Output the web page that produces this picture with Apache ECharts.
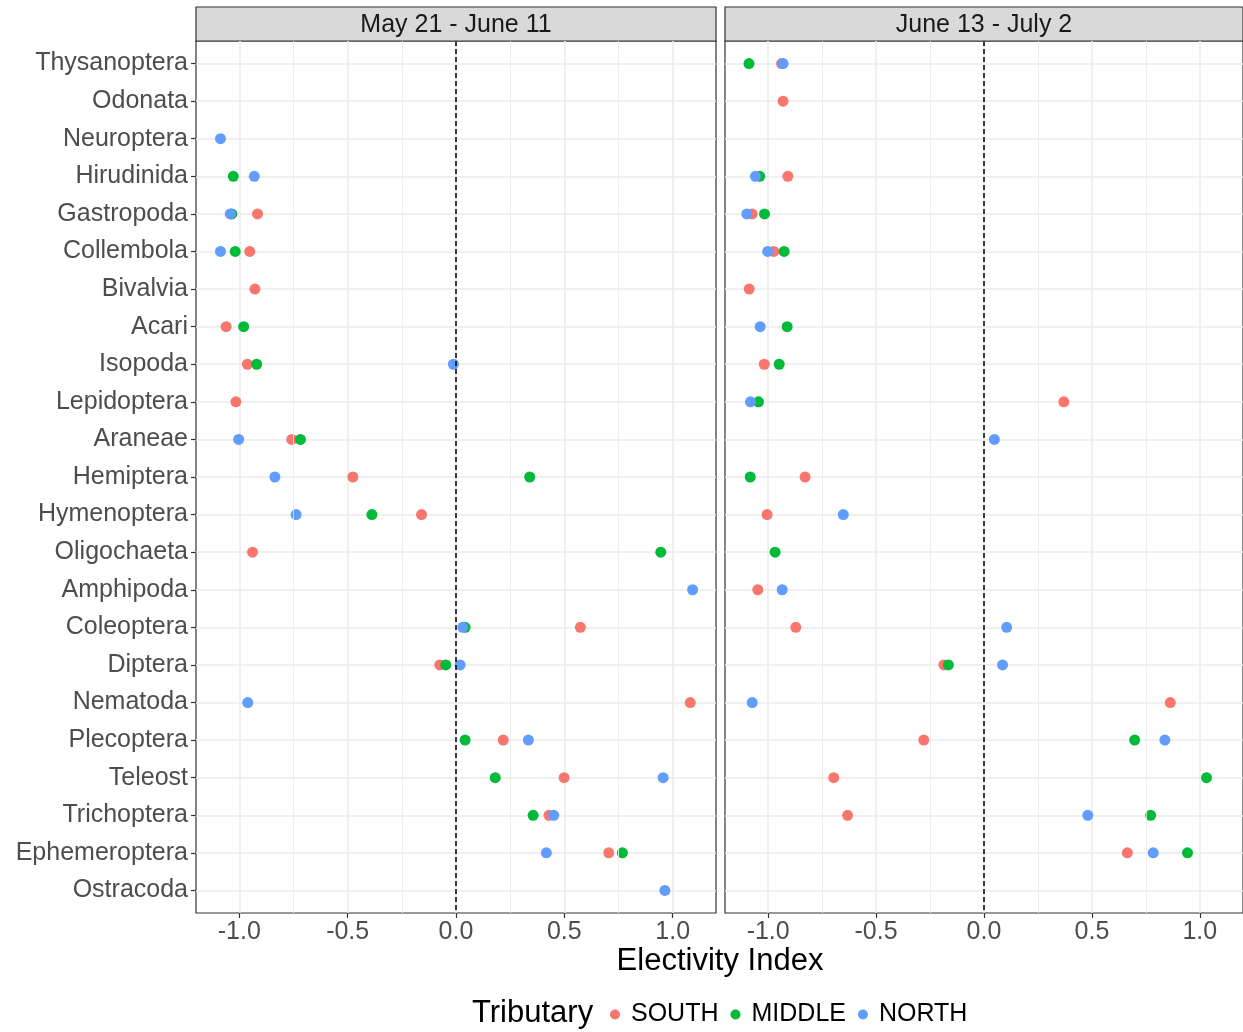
<!DOCTYPE html>
<html>
<head>
<meta charset="utf-8">
<script src="https://cdn.jsdelivr.net/npm/echarts@6/dist/echarts.min.js"></script>
<style>
html, body { margin: 0; padding: 0; background: #fff; }
#main { width: 1243px; height: 1032px; }
</style>
</head>
<body>
<div id="main"></div>
<script>
// categories, top to bottom
var taxa = ['Thysanoptera', 'Odonata', 'Neuroptera', 'Hirudinida', 'Gastropoda', 'Collembola',
	'Bivalvia', 'Acari', 'Isopoda', 'Lepidoptera', 'Araneae', 'Hemiptera', 'Hymenoptera',
	'Oligochaeta', 'Amphipoda', 'Coleoptera', 'Diptera', 'Nematoda', 'Plecoptera', 'Teleost',
	'Trichoptera', 'Ephemeroptera', 'Ostracoda'];
var periods = ['May 21 - June 11', 'June 13 - July 2'];
var tributaries = ['SOUTH', 'MIDDLE', 'NORTH'];
var xTicks = [-1, -0.5, 0, 0.5, 1];
var xMinor = [-0.75, -0.25, 0.25, 0.75];

// May 21 - June 11
var south1  = [null, null, null, null, -0.916, -0.952, -0.928, -1.061, -0.963, -1.016, -0.758, -0.476, -0.159, -0.939, null, 0.574, -0.075, 1.081, 0.218, 0.499, 0.429, 0.705, null];
var middle1 = [null, null, null, -1.028, -1.035, -1.019, null, -0.980, -0.920, null, -0.718, 0.340, -0.388, 0.945, null, 0.042, -0.047, null, 0.042, 0.181, 0.356, 0.768, null];
var north1  = [null, null, -1.087, -0.931, -1.042, -1.087, null, null, -0.012, null, -1.003, -0.836, -0.738, null, 1.092, 0.031, 0.019, -0.961, 0.334, 0.956, 0.451, 0.417, 0.964];

// June 13 - July 2
var south2  = [-0.938, -0.931, null, -0.909, -1.074, -0.974, -1.088, null, -1.018, 0.370, null, -0.829, -1.005, null, -1.048, -0.872, -0.186, 0.863, -0.279, -0.696, -0.632, 0.664, null];
var middle2 = [-1.089, null, null, -1.039, -1.017, -0.926, null, -0.912, -0.949, -1.045, null, -1.083, null, -0.968, null, null, -0.165, null, 0.698, 1.031, 0.772, 0.943, null];
var north2  = [-0.931, null, null, -1.059, -1.099, -1.002, null, -1.037, null, -1.082, 0.048, null, -0.652, null, -0.935, 0.105, 0.086, -1.074, 0.838, null, 0.481, 0.784, null];

var colors = ['#F8766D', '#00BA38', '#619CFF'];
var font = '"Liberation Sans", Arial, sans-serif';
var panelData = [[south1, middle1, north1], [south2, middle2, north2]];

var yIdx = taxa.map(function(t, i) { return i; });

function pts(arr) {
	var out = [];
	arr.forEach(function(v, i) {
		if (v !== null) out.push([v, i]);
	});
	return out;
}

var grids = [
	{ left: 196, top: 41, width: 520, height: 872 },
	{ left: 725, top: 41, width: 518, height: 872 }
];
var xAxes = [], yAxes = [], series = [], graphics = [];

grids.forEach(function(g, p) {
	g.show = true;
	g.borderColor = '#333333';
	g.borderWidth = 1.2;
	g.backgroundColor = '#fff';

	xAxes.push({
		gridIndex: p, type: 'value', min: -1.2, max: 1.2, position: 'bottom',
		axisLine: { show: false, onZero: false },
		axisTick: { show: true, customValues: xTicks, length: 5, lineStyle: { color: '#333333', width: 1.2 } },
		axisLabel: {
			customValues: xTicks, margin: 7, fontSize: 25, color: '#4D4D4D', fontFamily: font,
			formatter: function(v) { return v.toFixed(1); }
		},
		splitLine: { show: true, lineStyle: { color: '#EBEBEB', width: 1.6 } }
	});
	yAxes.push({
		gridIndex: p, type: 'value', min: -0.6, max: taxa.length - 0.4, inverse: true, position: 'left',
		axisLine: { show: false, onZero: false },
		axisTick: { show: p === 0, customValues: yIdx, length: 5, lineStyle: { color: '#333333', width: 1.2 } },
		axisLabel: {
			show: p === 0, customValues: yIdx, margin: 8, fontSize: 25, color: '#4D4D4D', fontFamily: font,
			formatter: function(v) { return taxa[Math.round(v)]; }
		},
		splitLine: { show: true, lineStyle: { color: '#EBEBEB', width: 1.6 } }
	});

	// minor grid lines and the dashed zero line
	var lines = xMinor.map(function(v) {
		return { xAxis: v, lineStyle: { color: '#EBEBEB', width: 0.8, type: 'solid' } };
	});
	lines.push({ xAxis: 0, lineStyle: { color: '#000000', width: 1.5, type: [5, 3] } });
	series.push({
		type: 'scatter', xAxisIndex: p, yAxisIndex: p, data: [], z: 1, silent: true,
		markLine: { symbol: ['none', 'none'], silent: true, label: { show: false }, data: lines, animation: false }
	});

	tributaries.forEach(function(name, k) {
		series.push({
			name: name, type: 'scatter', xAxisIndex: p, yAxisIndex: p, z: 2 + k,
			symbol: 'circle', symbolSize: 11,
			itemStyle: { color: colors[k], opacity: 1 },
			data: pts(panelData[p][k])
		});
	});

	// facet strip
	graphics.push({
		type: 'rect', shape: { x: g.left, y: 7, width: g.width, height: 34 },
		style: { fill: '#D9D9D9', stroke: '#333333', lineWidth: 1.2 }
	});
	graphics.push({
		type: 'text', x: g.left + g.width / 2, y: 25,
		style: { text: periods[p], fill: '#1A1A1A', font: '25px ' + font, align: 'center', verticalAlign: 'middle' }
	});
});

graphics.push({
	type: 'text', x: 720, y: 961,
	style: { text: 'Electivity Index', fill: '#000', font: '31px ' + font, align: 'center', verticalAlign: 'middle' }
});
graphics.push({
	type: 'text', x: 472, y: 1013,
	style: { text: 'Tributary', fill: '#000', font: '31px ' + font, align: 'left', verticalAlign: 'middle' }
});

var option = {
	animation: false,
	backgroundColor: '#fff',
	grid: grids,
	xAxis: xAxes,
	yAxis: yAxes,
	legend: {
		data: tributaries, left: 605, top: 997, icon: 'circle',
		itemWidth: 22, itemHeight: 10, itemGap: 12, selectedMode: false,
		textStyle: { fontSize: 25, color: '#000', fontFamily: font }
	},
	graphic: graphics,
	series: series
};

var myChart = echarts.init(document.getElementById('main'));
myChart.setOption(option);
</script>
</body>
</html>
